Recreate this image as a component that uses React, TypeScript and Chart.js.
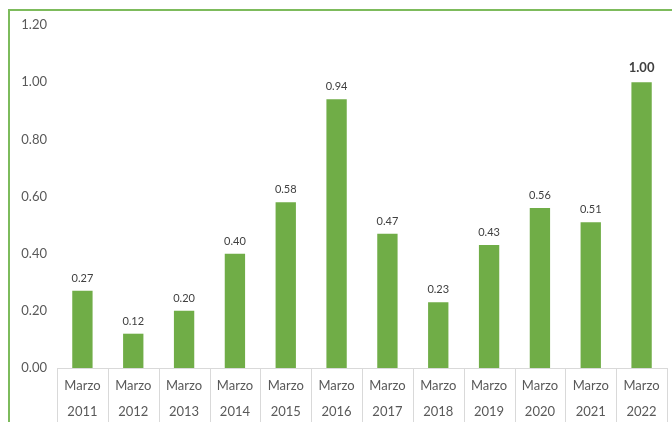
import React, { useEffect, useRef } from "react";
import { Chart, registerables } from "chart.js";

Chart.register(...registerables);

const months = ["Marzo", "Marzo", "Marzo", "Marzo", "Marzo", "Marzo", "Marzo", "Marzo", "Marzo", "Marzo", "Marzo", "Marzo"];
const years = ["2011", "2012", "2013", "2014", "2015", "2016", "2017", "2018", "2019", "2020", "2021", "2022"];
const values = [0.27, 0.12, 0.2, 0.4, 0.58, 0.94, 0.47, 0.23, 0.43, 0.56, 0.51, 1.0];
const yMin = 0;
const yMax = 1.2;
const yStep = 0.2;

const FONT = "Lato, 'Open Sans', sans-serif";

const extrasPlugin = {
  id: "extras",
  afterDraw(chart: any) {
    const ctx = chart.ctx;
    const xs = chart.scales.x;
    const area = chart.chartArea;
    const n = years.length;
    const c0 = xs.getPixelForValue(0);
    const c1 = xs.getPixelForValue(1);
    const half = (c1 - c0) / 2;
    ctx.save();
    ctx.strokeStyle = "#D9D9D9";
    ctx.lineWidth = 1;
    ctx.beginPath();
    ctx.moveTo(c0 - half, Math.round(area.bottom) + 0.5);
    ctx.lineTo(xs.getPixelForValue(n - 1) + half, Math.round(area.bottom) + 0.5);
    for (let i = 0; i <= n; i++) {
      const x = Math.round(c0 - half + i * 2 * half) + 0.5;
      ctx.moveTo(x, area.bottom);
      ctx.lineTo(x, chart.height);
    }
    ctx.stroke();

    ctx.textAlign = "center";
    ctx.textBaseline = "middle";
    ctx.fillStyle = "#595959";
    ctx.font = `13px ${FONT}`;
    for (let i = 0; i < n; i++) {
      const x = xs.getPixelForValue(i);
      ctx.fillText(months[i], x, area.bottom + 18);
      ctx.fillText(years[i], x, area.bottom + 44);
    }

    const meta = chart.getDatasetMeta(0);
    meta.data.forEach((bar: any, i: number) => {
      const last = i === n - 1;
      ctx.font = last ? `bold 13px ${FONT}` : `11px ${FONT}`;
      ctx.fillStyle = "#404040";
      ctx.fillText(values[i].toFixed(2), bar.x, bar.y - (last ? 14 : 12.5));
    });
    ctx.restore();
  },
};

export default function App() {
  const ref = useRef<HTMLCanvasElement | null>(null);

  useEffect(() => {
    if (!ref.current) return;
    const chart = new Chart(ref.current, {
      type: "bar",
      data: {
        labels: years.map((y, i) => months[i] + " " + y),
        datasets: [
          {
            data: values,
            backgroundColor: "#70AD47",
            borderWidth: 0,
            categoryPercentage: 1,
            barPercentage: 0.4,
          },
        ],
      },
      options: {
        animation: false,
        responsive: false,
        devicePixelRatio: 1,
        layout: { padding: { top: 17, right: 33, bottom: 0, left: 0 } },
        plugins: { legend: { display: false }, tooltip: { enabled: false }, title: { display: false } },
        scales: {
          x: {
            grid: { display: false },
            border: { display: false },
            ticks: { display: false },
            afterFit: (s: any) => {
              s.height = 84;
            },
          },
          y: {
            min: yMin,
            max: yMax,
            grid: { display: false },
            border: { display: false },
            ticks: {
              stepSize: yStep,
              color: "#595959",
              font: { family: FONT, size: 13 },
              padding: 2,
              callback: (v: any) => Number(v).toFixed(2),
            },
            afterFit: (s: any) => {
              s.width = 47;
            },
          },
        },
      },
      plugins: [extrasPlugin],
    });
    return () => chart.destroy();
  }, []);

  return (
    <div
      style={{
        position: "absolute",
        left: 8,
        top: 9,
        width: 690,
        height: 440,
        border: "2px solid #7DBB5C",
        background: "#fff",
        overflow: "hidden",
      }}
    >
      <canvas
        ref={ref}
        width={690}
        height={444}
        style={{ display: "block", width: 690, height: 444, marginTop: -3 }}
      />
    </div>
  );
}
